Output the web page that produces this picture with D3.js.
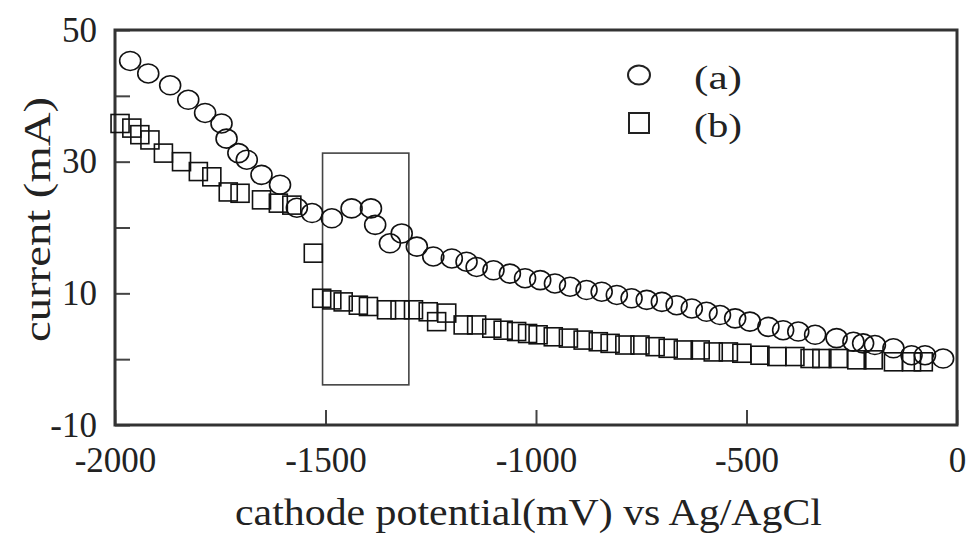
<!DOCTYPE html>
<html>
<head>
<meta charset="utf-8">
<script src="https://cdn.jsdelivr.net/npm/d3@7"></script>
<style>
  body { margin: 0; background: #fff; }
  svg { display: block; }
  text { font-family: "Liberation Serif", "Times New Roman", serif; fill: #222; }
</style>
</head>
<body>
<div class="container"></div>
<script>
// series (a): circles
var potentialA = [-1964, -1921, -1869, -1826, -1786, -1747, -1735, -1707, -1687, -1652,
  -1608, -1568, -1532, -1485, -1438, -1392, -1382, -1347, -1319, -1283,
  -1244, -1200, -1165, -1141, -1101, -1062, -1026, -990, -955, -919,
  -880, -844, -808, -773, -737, -701, -666, -630, -595, -563,
  -527, -492, -448, -413, -377, -337, -286, -246, -223, -195,
  -151, -108, -76, -33];
var currentA = [45.3, 43.4, 41.6, 39.4, 37.4, 35.8, 33.5, 31.3, 30.3, 28.0,
  26.5, 23.0, 22.2, 21.4, 22.9, 22.9, 20.4, 17.6, 19.1, 17.1,
  15.6, 15.3, 14.8, 14.0, 13.5, 13.0, 12.3, 12.0, 11.5, 11.0,
  10.5, 10.25, 9.75, 9.25, 9.0, 8.7, 8.2, 7.7, 7.2, 6.7,
  6.2, 5.7, 4.9, 4.4, 4.2, 3.7, 3.2, 2.65, 2.4, 2.15,
  1.65, 0.6, 0.6, 0.1];

// series (b): squares
var potentialB = [-1988, -1960, -1941, -1917, -1885, -1842, -1802, -1770, -1731, -1703,
  -1652, -1612, -1580, -1529, -1509, -1485, -1458, -1422, -1398, -1355,
  -1323, -1291, -1256, -1236, -1212, -1173, -1141, -1105, -1078, -1046,
  -1020, -995, -959, -923, -888, -852, -824, -789, -753, -717,
  -686, -650, -610, -579, -543, -511, -468, -428, -385, -349,
  -321, -282, -238, -199, -151, -108, -80];
var currentB = [35.8, 35.1, 34.1, 33.3, 31.3, 30.0, 28.5, 27.7, 25.4, 25.2,
  24.2, 23.7, 23.4, 16.1, 9.25, 9.0, 8.7, 8.2, 8.0, 7.5,
  7.5, 7.5, 7.2, 5.7, 7.0, 5.2, 5.2, 4.7, 4.4, 4.2,
  3.9, 3.7, 3.4, 3.2, 2.9, 2.65, 2.4, 2.15, 2.15, 1.9,
  1.65, 1.4, 1.4, 1.1, 1.1, 0.9, 0.6, 0.4, 0.4, 0.1,
  0.1, 0.1, -0.1, -0.1, -0.4, -0.4, -0.4];

var xTicks = [-2000, -1500, -1000, -500, 0];
var yTicks = [-10, 0, 10, 20, 30, 40, 50];
var yLabels = [-10, 10, 30, 50];
var legendLabels = ['(a)', '(b)'];
// highlighted window: potential range and current range
var boxPotential = [-1507, -1302];
var boxCurrent = [-3.9, 31.3];

var W = 972, H = 538;
var mLeft = 115, mRight = 957, mTop = 30, mBottom = 425;

var svg = d3.select('.container')
  .append('svg')
  .attr('width', W)
  .attr('height', H);

var x = d3.scaleLinear().domain([-2000, 0]).range([mLeft, mRight]);
var y = d3.scaleLinear().domain([-10, 50]).range([mBottom, mTop]);

var xAxis = d3.axisBottom(x)
  .tickValues(xTicks)
  .tickSizeInner(-15)
  .tickSizeOuter(0)
  .tickPadding(22)
  .tickFormat(d => String(d));

var yAxis = d3.axisLeft(y)
  .tickValues(yTicks)
  .tickSizeInner(-15)
  .tickSizeOuter(0)
  .tickPadding(18)
  .tickFormat(d => yLabels.indexOf(d) >= 0 ? String(d) : '');

var gx = svg.append('g')
  .attr('transform', 'translate(0,' + mBottom + ')')
  .call(xAxis);
var gy = svg.append('g')
  .attr('transform', 'translate(' + mLeft + ',0)')
  .call(yAxis);

[gx, gy].forEach(function(g) {
  g.select('.domain').remove();
  g.selectAll('.tick line').attr('stroke', '#444').attr('stroke-width', 2);
  g.selectAll('.tick text')
    .style('font-family', '"Liberation Serif", "Times New Roman", serif')
    .style('font-size', '35px')
    .attr('fill', '#222');
});

// frame
svg.append('rect')
  .attr('x', mLeft)
  .attr('y', mTop)
  .attr('width', mRight - mLeft)
  .attr('height', mBottom - mTop)
  .attr('fill', 'none')
  .attr('stroke', '#333')
  .attr('stroke-width', 3);

// window rectangle
svg.append('rect')
  .attr('x', x(boxPotential[0]))
  .attr('y', y(boxCurrent[1]))
  .attr('width', x(boxPotential[1]) - x(boxPotential[0]))
  .attr('height', y(boxCurrent[0]) - y(boxCurrent[1]))
  .attr('fill', 'none')
  .attr('stroke', '#444')
  .attr('stroke-width', 1.6);

// squares (b)
var sq = 18;
svg.append('g').selectAll('rect')
  .data(potentialB)
  .enter()
  .append('rect')
  .attr('x', d => x(d) - sq / 2)
  .attr('y', (d, i) => y(currentB[i]) - sq / 2)
  .attr('width', sq)
  .attr('height', sq)
  .attr('fill', 'none')
  .attr('stroke', '#111')
  .attr('stroke-width', 1.6);

// circles (a)
svg.append('g').selectAll('ellipse')
  .data(potentialA)
  .enter()
  .append('ellipse')
  .attr('cx', d => x(d))
  .attr('cy', (d, i) => y(currentA[i]))
  .attr('rx', 10.5)
  .attr('ry', 9.5)
  .attr('fill', 'none')
  .attr('stroke', '#111')
  .attr('stroke-width', 1.6);

// legend
svg.append('ellipse')
  .attr('cx', 639).attr('cy', 75)
  .attr('rx', 11).attr('ry', 9.5)
  .attr('fill', 'none').attr('stroke', '#222').attr('stroke-width', 2);
svg.append('rect')
  .attr('x', 629).attr('y', 113)
  .attr('width', 20).attr('height', 20)
  .attr('fill', 'none').attr('stroke', '#222').attr('stroke-width', 2);

svg.selectAll('.legend-label')
  .data(legendLabels)
  .enter()
  .append('text')
  .attr('class', 'legend-label')
  .attr('x', 694)
  .attr('y', (d, i) => 89 + i * 48)
  .attr('textLength', 48)
  .attr('lengthAdjust', 'spacingAndGlyphs')
  .style('font-size', '34px')
  .text(d => d);

// axis titles
svg.append('text')
  .attr('x', 235)
  .attr('y', 525)
  .attr('textLength', 587)
  .attr('lengthAdjust', 'spacingAndGlyphs')
  .style('font-size', '37px')
  .text('cathode potential(mV) vs Ag/AgCl');

svg.append('text')
  .attr('transform', 'translate(50,342) rotate(-90)')
  .attr('x', 0)
  .attr('y', 0)
  .attr('textLength', 245)
  .attr('lengthAdjust', 'spacingAndGlyphs')
  .style('font-size', '37px')
  .text('current (mA)');
</script>
</body>
</html>
